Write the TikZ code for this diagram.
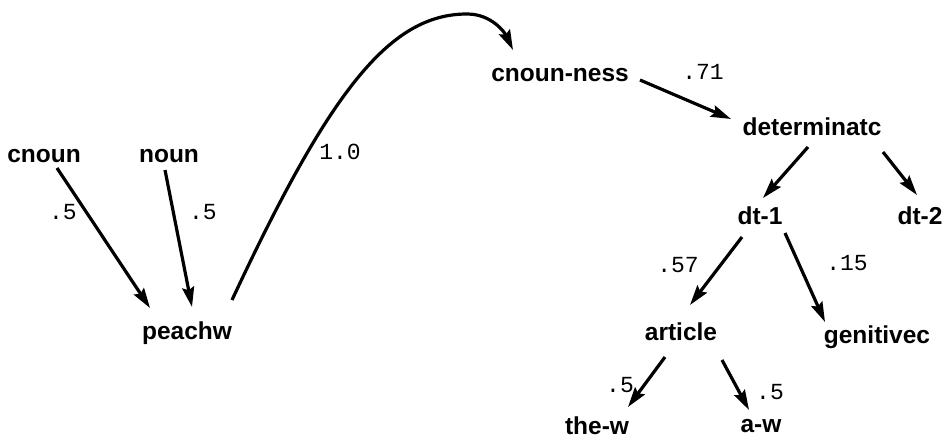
\documentclass[tikz,border=0pt]{standalone}
\usepackage{fontspec}
\setmainfont{Liberation Sans}
\newfontfamily\monof{Liberation Mono}
\usetikzlibrary{arrows.meta}
\begin{document}
\begin{tikzpicture}[x=1pt,y=-1pt,
  lab/.style={inner sep=0pt,font=\fontsize{24.5}{24.5}\selectfont\bfseries},
  wt/.style={inner sep=0pt,font=\fontsize{23}{23}\selectfont\monof},
  arr/.style={line width=3.2pt,-{Stealth[length=20pt,width=12pt,inset=3pt]}}]
\useasboundingbox (0,0) rectangle (948,444);
% nodes
\node[lab] (cnoun) at (44,156) {cnoun};
\node[lab] (noun) at (169,156) {noun};
\node[lab] (peachw) at (187,333) {peachw};
\node[lab] (cness) at (560,75) {cnoun-ness};
\node[lab] (det) at (812,127) {determinatc};
\node[lab] (dt1) at (760,216) {dt-1};
\node[lab] (dt2) at (920,216) {dt-2};
\node[lab] (article) at (681,332) {article};
\node[lab] (genitivec) at (877,337) {genitivec};
\node[lab] (thew) at (597,426) {the-w};
\node[lab] (aw) at (761,426) {a-w};
% weights
\node[wt] (w1) at (63,212) {.5};
\node[wt] (w2) at (203,212) {.5};
\node[wt] (w3) at (340,152) {1.0};
\node[wt] (w4) at (703,72) {.71};
\node[wt] (w5) at (678,265) {.57};
\node[wt] (w6) at (847,263) {.15};
\node[wt] (w7) at (620,385) {.5};
\node[wt] (w8) at (770,392) {.5};
% connectors
\draw[arr] ([shift={(13,12)}]cnoun.center) -- ([shift={(-37,-25)}]peachw.center);
\draw[arr] ([shift={(-4,14)}]noun.center) -- ([shift={(5,-26)}]peachw.center);
\draw[arr] ([shift={(45,-33)}]peachw.center) .. controls (330,90) and (390,14) .. (467,14)
   .. controls (492,14) and (505,33) .. ([shift={(-47,-25)}]cness.center);
\draw[arr] ([shift={(80,5)}]cness.center) -- ([shift={(-81,-8)}]det.center);
\draw[arr] ([shift={(-4,20)}]det.center) -- ([shift={(3,-18)}]dt1.center);
\draw[arr] ([shift={(71,25)}]det.center) -- ([shift={(-3,-21)}]dt2.center);
\draw[arr] ([shift={(-18,21)}]dt1.center) -- ([shift={(9,-27)}]article.center);
\draw[arr] ([shift={(25,17)}]dt1.center) -- ([shift={(-52,-15)}]genitivec.center);
\draw[arr] ([shift={(-16,25)}]article.center) -- ([shift={(31,-19)}]thew.center);
\draw[arr] ([shift={(41,28)}]article.center) -- ([shift={(-12,-16)}]aw.center);
\end{tikzpicture}
\end{document}
